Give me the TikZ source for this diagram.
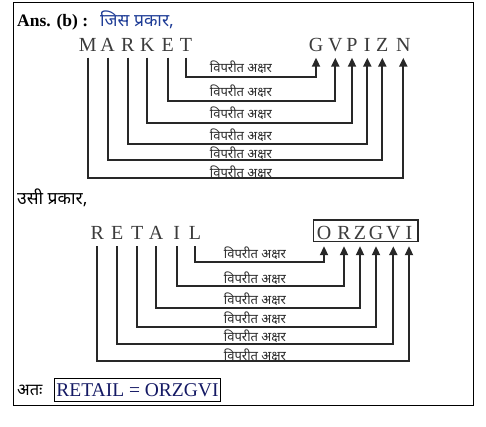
\documentclass[tikz,border=0pt]{standalone}
\usepackage{fontspec}
\setmainfont{Liberation Serif}
\newfontfamily\deva[Script=Devanagari]{Noto Sans}
\usetikzlibrary{arrows.meta}
\definecolor{letgray}{RGB}{60,60,60}
\definecolor{lcol}{RGB}{40,40,40}
\definecolor{lblcol}{RGB}{45,45,45}
\definecolor{hblue}{RGB}{30,60,150}
\definecolor{navy}{RGB}{20,25,100}
\begin{document}
\begin{tikzpicture}[x=1pt,y=-1pt,
  lt/.style={font=\fontsize{20}{20}\selectfont, text=letgray, anchor=base, inner xsep=0pt, inner ysep=6.5pt, text depth=0pt},
  conn/.style={line width=2pt, draw=lcol, -{Triangle[width=8pt,length=9pt]}},
  lbl/.style={font=\deva\fontsize{13}{13}\selectfont, text=lblcol, inner sep=0pt, anchor=base},
  hindi/.style={font=\deva\fontsize{17.5}{18}\selectfont, inner sep=0pt, anchor=base west}]
\useasboundingbox (0,0) rectangle (486,426);
\fill[white] (0,0) rectangle (486,426);
\node[draw=black, line width=1.4pt, minimum width=460pt, minimum height=403.5pt, inner sep=0pt, anchor=north west] (frame) at (13,1.5) {};

% heading
\node[font=\bfseries\fontsize{17.5}{18}\selectfont, inner sep=0pt, anchor=base west] (ans) at (17,26) {Ans. (b) :};
\node[hindi, text=hblue] (jis) at (100,26) {जिस प्रकार,};

% first diagram
\foreach \n/\x in {M/87.7,A/107.7,R/127.7,K/147.3,E/167.7,T/186}
  \node[lt] (a\n) at (\x,51) {\n};
\foreach \n/\x in {G/316,V/335.3,P/352,I/367.3,Z/382.3,N/403.3}
  \node[lt] (b\n) at (\x,51) {\n};
\foreach \s/\t/\y/\b in {T/G/76.7/72.5, E/V/101/96.5, K/P/123.3/118.5, R/I/144/140.5, A/Z/160/158.5, M/N/177.7/177}{
  \coordinate (c\s) at (241,\y);
  \node[lbl] (l\s) at (241,\b) {विपरीत अक्षर};
  \draw[conn] (a\s.south) |- (c\s) -| (b\t.south);
}

% second heading
\node[hindi, text=black] (usi) at (17,204) {उसी प्रकार,};

% second diagram
\foreach \n/\k/\x in {R/1/97.3,E/2/117.3,T/3/137.3,A/4/156,I/5/176.7,L/6/195}
  \node[lt] (r\k) at (\x,239.5) {\n};
\foreach \n/\k/\x in {O/1/324,R/2/344,Z/3/360,G/4/376,V/5/393.3,I/6/409}
  \node[lt] (o\k) at (\x,239.5) {\n};
\node[draw=lcol, line width=1.5pt, minimum width=104.5pt, minimum height=21.5pt, inner sep=0pt] (box) at (365.8,230.9) {};
\foreach \s/\t/\y/\b in {6/1/262.3/258.5, 5/2/286/283.5, 4/3/308.3/304.5, 3/4/327.3/323.5, 2/5/344/341, 1/6/360.7/360}{
  \coordinate (d\s) at (255,\y);
  \node[lbl] (m\s) at (255,\b) {विपरीत अक्षर};
  \draw[conn] (r\s.south) |- (d\s) -| (o\t.south);
}

% conclusion
\node[hindi, text=black, font=\deva\fontsize{16.5}{17}\selectfont] (atah) at (17,395) {अतः};
\node[draw=black, line width=1pt, text=navy, font=\fontsize{19.5}{20}\selectfont, minimum width=166.4pt, minimum height=23.4pt, inner sep=0pt] (ans2) at (137.5,390) {RETAIL = ORZGVI};
\end{tikzpicture}
\end{document}
